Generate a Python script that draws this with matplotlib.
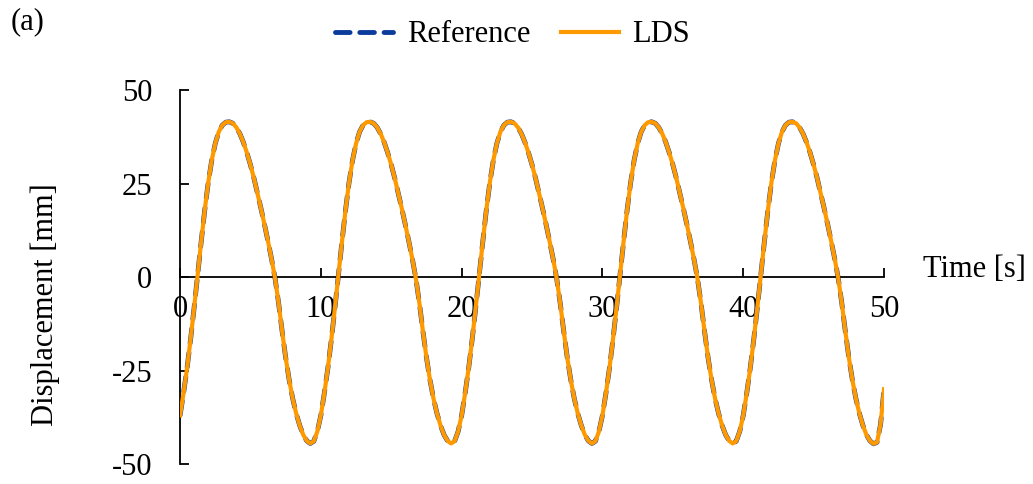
import numpy as np
import matplotlib
matplotlib.use("Agg")
import matplotlib.pyplot as plt

plt.rcParams["font.family"] = ["Liberation Serif", "DejaVu Serif"]
plt.rcParams["font.size"] = 22
plt.rcParams["axes.unicode_minus"] = False

#--- data: displacement sampled every 0.25 s, 0..50 s
time_s = np.linspace(0, 50, 201)
disp_mm = [
    -37, -31, -24.3, -16.6, -8.2, 0.6, 9.4, 17.8, 25.2, 31.2, 35.7, 38.8, 40.6, 41.4, 41.5,
    41.1, 40.0, 38.3, 36.0, 33.2, 30.0, 26.4, 22.4, 18.3, 14.0, 9.5, 4.8, -0.4, -7.0, -14.5,
    -21.5, -27.5, -32.5, -36.5, -39.7, -42.2, -43.8, -44.5, -43.9, -41.3,
    -37, -31, -24.3, -16.6, -8.2, 0.6, 9.4, 17.8, 25.2, 31.2, 35.7, 38.8, 40.6, 41.4, 41.5,
    41.1, 40.0, 38.3, 36.0, 33.2, 30.0, 26.4, 22.4, 18.3, 14.0, 9.5, 4.8, -0.4, -7.0, -14.5,
    -21.5, -27.5, -32.5, -36.5, -39.7, -42.2, -43.8, -44.5, -43.9, -41.3,
    -37, -31, -24.3, -16.6, -8.2, 0.6, 9.4, 17.8, 25.2, 31.2, 35.7, 38.8, 40.6, 41.4, 41.5,
    41.1, 40.0, 38.3, 36.0, 33.2, 30.0, 26.4, 22.4, 18.3, 14.0, 9.5, 4.8, -0.4, -7.0, -14.5,
    -21.5, -27.5, -32.5, -36.5, -39.7, -42.2, -43.8, -44.5, -43.9, -41.3,
    -37, -31, -24.3, -16.6, -8.2, 0.6, 9.4, 17.8, 25.2, 31.2, 35.7, 38.8, 40.6, 41.4, 41.5,
    41.1, 40.0, 38.3, 36.0, 33.2, 30.0, 26.4, 22.4, 18.3, 14.0, 9.5, 4.8, -0.4, -7.0, -14.5,
    -21.5, -27.5, -32.5, -36.5, -39.7, -42.2, -43.8, -44.5, -43.9, -41.3,
    -37, -31, -24.3, -16.6, -8.2, 0.6, 9.4, 17.8, 25.2, 31.2, 35.7, 38.8, 40.6, 41.4, 41.5,
    41.1, 40.0, 38.3, 36.0, 33.2, 30.0, 26.4, 22.4, 18.3, 14.0, 9.5, 4.8, -0.4, -7.0, -14.5,
    -21.5, -27.5, -32.5, -36.5, -39.7, -42.2, -43.8, -44.6, -44.2, -39.5,
    -30,
]
ref_mm = disp_mm  # reference and LDS overlap
x_ticks = [0, 10, 20, 30, 40, 50]
y_ticks = [-50, -25, 0, 25, 50]

fig = plt.figure(figsize=(10.33, 4.84), dpi=100)
ax = fig.add_axes([0.1743, 0.0413, 0.6815, 0.7727])

ax.plot(time_s, ref_mm, color="#0B3C9C", lw=3.5, ls=(0, (3.0, 2.0)),
        dash_capstyle="round", label="Reference", zorder=2)
ax.plot(time_s, disp_mm, color="#FF9900", lw=3.0, label="LDS", zorder=3)

ax.set_xlim(0, 50)
ax.set_ylim(-50, 50)
ax.set_xticks(x_ticks)
ax.set_yticks(y_ticks)

# axes cross at the origin
ax.spines["left"].set_position(("data", 0))
ax.spines["bottom"].set_position(("data", 0))
for s in ["top", "right"]:
    ax.spines[s].set_visible(False)
for s in ["left", "bottom"]:
    ax.spines[s].set_linewidth(1.3)
ax.tick_params(axis="both", direction="in", length=6.5, width=1.3)
ax.tick_params(axis="y", pad=20)
ax.tick_params(axis="x", pad=13)

ax.set_xlabel("Time [s]", ha="left", va="center")
ax.xaxis.set_label_coords(1.055, 0.519)
ax.set_ylabel("Displacement [mm]", va="center")
ax.yaxis.set_label_coords(-0.192, 0.425)

fig.legend(loc="center", bbox_to_anchor=(0.496, 0.928), ncol=2, frameon=False,
           handlelength=1.9, handletextpad=0.45, columnspacing=1.0)
fig.text(0.01, 0.955, "(a)", va="center", ha="left")

plt.savefig("out.png", dpi=100)
